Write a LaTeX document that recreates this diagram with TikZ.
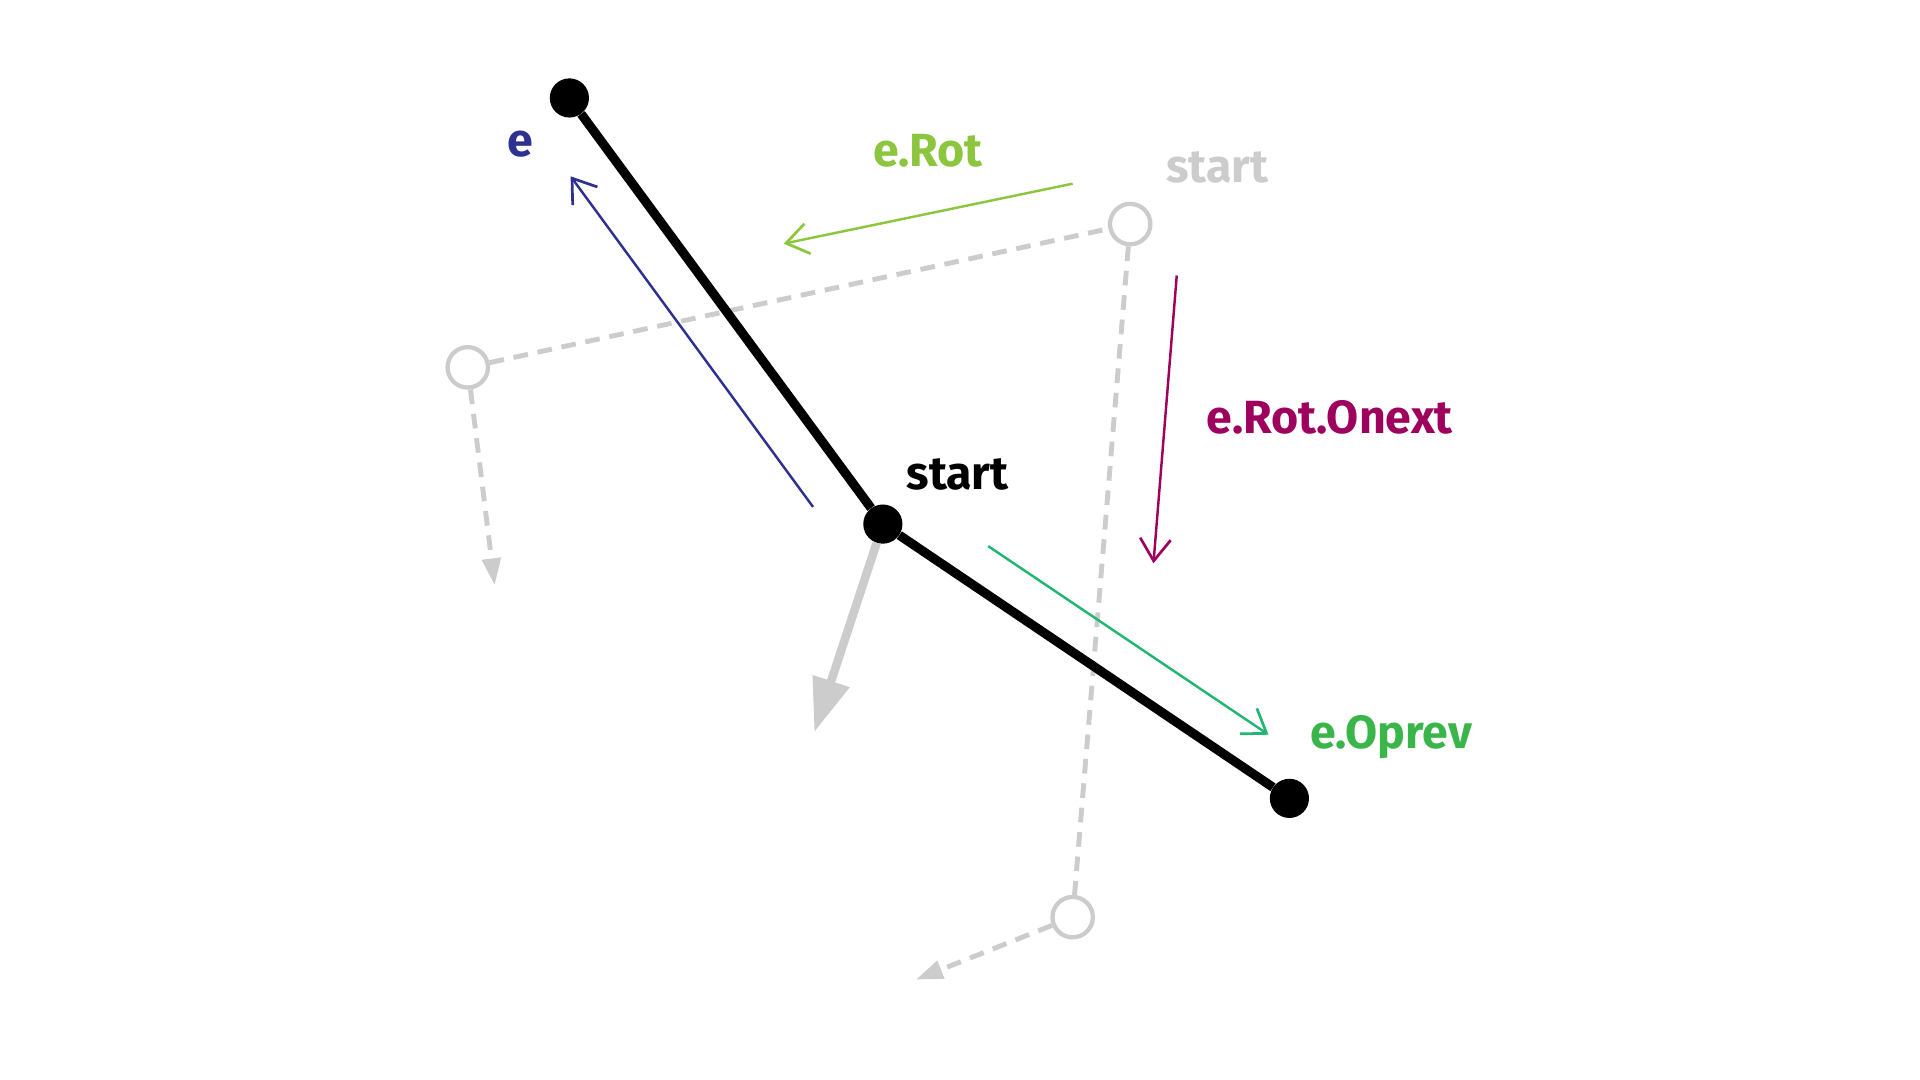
\documentclass[tikz,border=0pt]{standalone}
\usepackage{fontspec}
\setmainfont{Fira Sans}
\usetikzlibrary{arrows.meta}
\definecolor{navy}{HTML}{2E3192}
\definecolor{lgreen}{HTML}{8CC63F}
\definecolor{magen}{HTML}{9E005D}
\definecolor{teal2}{HTML}{22B573}
\definecolor{ogreen}{HTML}{39B54A}
\definecolor{ghost}{HTML}{CCCCCC}
\tikzset{
  dot/.style={circle, fill=black, inner sep=0pt, minimum size=32pt},
  hollow/.style={circle, draw=ghost, line width=3.5pt, fill=white, inner sep=0pt, minimum size=33pt},
  edge/.style={line width=7.5pt, black},
  ghostline/.style={ghost, line width=4pt, dash pattern=on 12pt off 8pt},
  ghostarrow/.style={ghostline, -{Triangle[length=22pt,width=15pt]}},
  bigarrow/.style={ghost, line width=7pt, -{Triangle[length=44pt,width=30pt]}},
  thinarrow/.style={line width=2pt, -{Straight Barb[length=18pt,width=25pt,line width=2.2pt]}},
  lbl/.style={anchor=base, inner sep=0pt, font=\fontsize{38}{46}\selectfont\bfseries}
}
\begin{document}
\begin{tikzpicture}[x=1pt,y=-1pt]
\useasboundingbox (0,0) rectangle (1568,882);
% ghost structure
\node[hollow] (g1) at (923,183) {};
\node[hollow] (g2) at (382,300) {};
\node[hollow] (g3) at (876,749) {};
\coordinate (g2end) at (404,478);
\coordinate (g3end) at (748,800);
\draw[ghostline] (g2) -- (g1);
\draw[ghostline] (g1) -- (g3);
\draw[ghostarrow] (g2) -- (g2end);
\draw[ghostarrow] (g3) -- (g3end);
% main edge
\node[dot] (a) at (465,80) {};
\node[dot] (b) at (721,428) {};
\node[dot] (c) at (1053,652) {};
\coordinate (bend) at (665,598);
\draw[bigarrow] (b) -- (bend);
\draw[edge] (a) -- (b);
\draw[edge] (b) -- (c);
% colored arrows
\coordinate (e1) at (664,414); \coordinate (e2) at (466,144);
\draw[thinarrow, navy] (e1) -- (e2);
\coordinate (r1) at (876,150); \coordinate (r2) at (640,199);
\draw[thinarrow, lgreen] (r1) -- (r2);
\coordinate (o1) at (961,225); \coordinate (o2) at (942,460);
\draw[thinarrow, magen] (o1) -- (o2);
\coordinate (p1) at (807,446); \coordinate (p2) at (1036,600);
\draw[thinarrow, teal2] (p1) -- (p2);
% labels
\node[lbl, navy] (le) at (425,128) {e};
\node[lbl, lgreen] (lrot) at (758,136) {e.Rot};
\node[lbl, ghost] (lstart2) at (994,149) {start};
\node[lbl, magen] (lonext) at (1086,354) {e.Rot.Onext};
\node[lbl, ogreen] (loprev) at (1136,611) {e.Oprev};
\node[lbl, black] (lstart) at (782,400) {start};
\end{tikzpicture}
\end{document}
